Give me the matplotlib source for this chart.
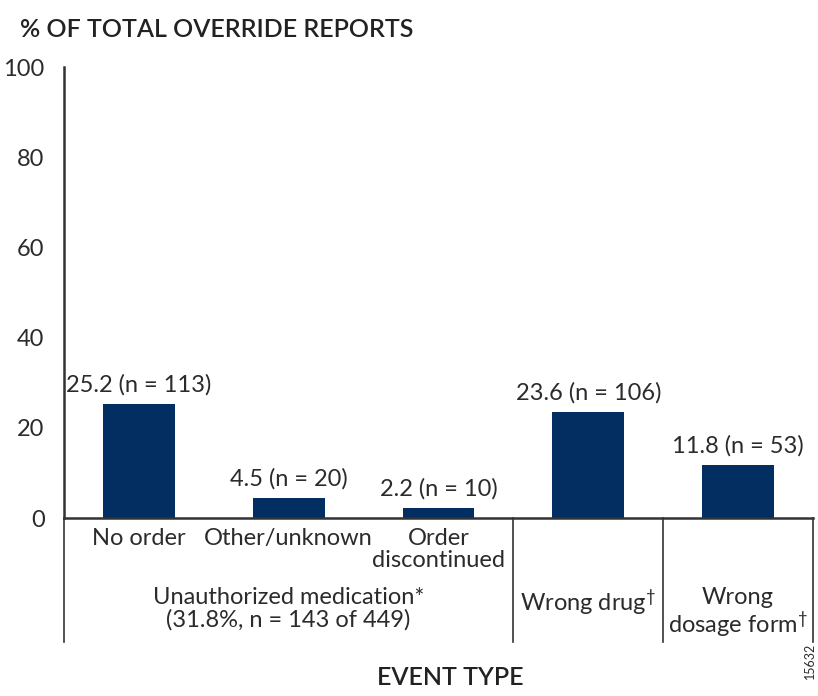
import matplotlib.pyplot as plt

# data
categories = ["No order", "Other/unknown", "Order\ndiscontinued", "", ""]
values = [25.2, 4.5, 2.2, 23.6, 11.8]
counts = [113, 20, 10, 106, 53]
groups = ["Unauthorized medication*\n(31.8%, n = 143 of 449)",
          "Wrong drug$^{\\dagger}$",
          "Wrong\ndosage form$^{\\dagger}$"]
group_spans = [(0, 2), (3, 3), (4, 4)]
yticks = [0, 20, 40, 60, 80, 100]

plt.rcParams['font.family'] = ['Lato', 'DejaVu Sans']
plt.rcParams['mathtext.fontset'] = 'custom'
plt.rcParams['mathtext.rm'] = 'Lato'
plt.rcParams['mathtext.it'] = 'Lato'
plt.rcParams['mathtext.bf'] = 'Lato'
txt = '#2b2b2b'
navy = '#032e62'
fs = 17

fig = plt.figure(figsize=(8.18, 6.96), dpi=100)
ax = fig.add_axes([0.0782, 0.2557, 0.9157, 0.648])

x = list(range(len(values)))
ax.bar(x, values, width=0.48, color=navy)
for xi, v, n in zip(x, values, counts):
    ax.annotate(f"{v} (n = {n})", (xi, v), xytext=(0, 6), textcoords='offset points',
                ha='center', va='bottom', fontsize=fs, color=txt)

ax.set_xlim(-0.5, 4.5)
ax.set_ylim(0, 100)
ax.set_yticks(yticks)
ax.set_yticklabels([str(t) for t in yticks], fontsize=fs, color=txt)
ax.tick_params(axis='y', length=0, pad=14)
ax.set_xticks([])
for s in ['top', 'right']:
    ax.spines[s].set_visible(False)
for s in ['left', 'bottom']:
    ax.spines[s].set_linewidth(1.8)
    ax.spines[s].set_color('#333333')

# category labels under bars
for xi, c in zip(x, categories):
    if c:
        ax.text(xi, -2.2, c, ha='center', va='top', fontsize=fs, color=txt,
                linespacing=1.05)

# group separators and labels
for i, (a, b) in enumerate(group_spans):
    if i == 0:
        ax.plot([-0.5, -0.5], [0, -27.5], color='#333333', lw=1.2, clip_on=False)
    ax.plot([b + 0.5, b + 0.5], [0, -27.5], color='#333333', lw=1.2, clip_on=False)
    ax.text((a + b) / 2, -15.3, groups[i], ha='center', va='top', fontsize=fs,
            color=txt, linespacing=1.05)

fig.text(0.025, 0.958, "% OF TOTAL OVERRIDE REPORTS", fontsize=18, fontweight='semibold',
         color='#222222', va='center')
fig.text(0.55, 0.01, "EVENT TYPE", fontsize=18, fontweight='semibold', color='#222222',
         ha='center', va='bottom')
fig.text(0.997, 0.025, "15632", fontsize=9, rotation=90, color=txt, ha='right', va='bottom')

fig.savefig('out.png', dpi=100)
